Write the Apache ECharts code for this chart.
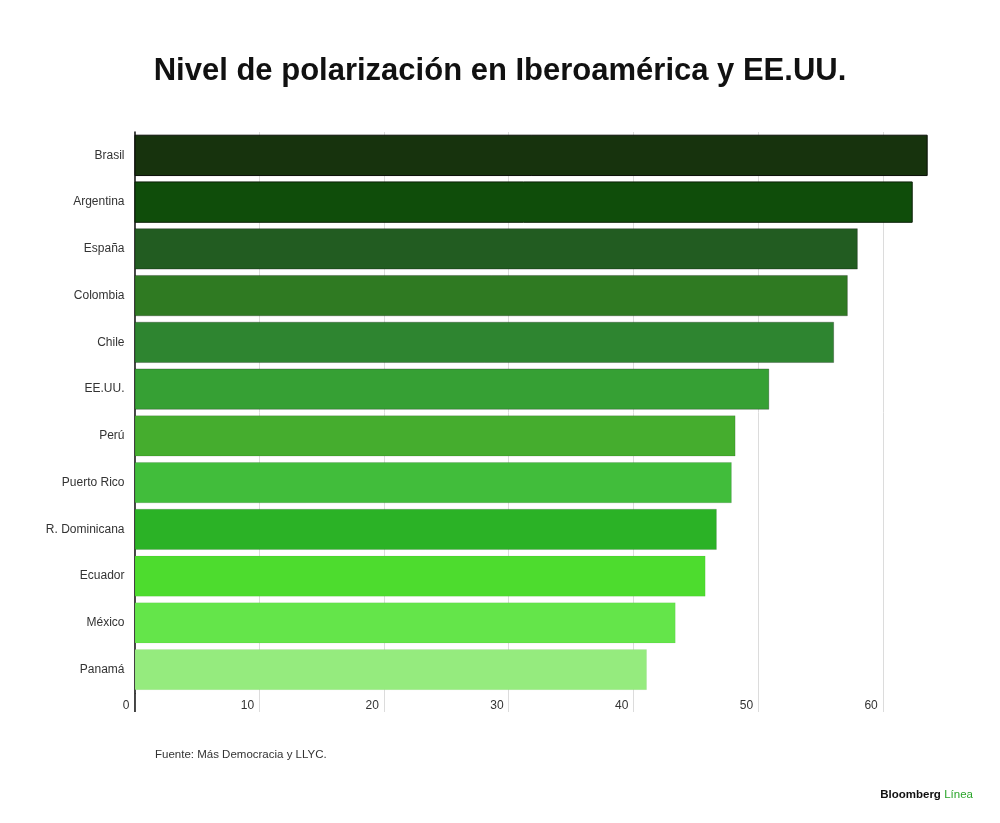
<!DOCTYPE html>
<html>
<head>
<meta charset="utf-8">
<script src="https://cdn.jsdelivr.net/npm/echarts@6/dist/echarts.min.js"></script>
<style>
html,body{margin:0;padding:0;background:#fff;}
#chart{width:1000px;height:823px;}
</style>
</head>
<body>
<div id="chart"></div>
<script>
const countries = ['Brasil','Argentina','España','Colombia','Chile','EE.UU.','Perú','Puerto Rico','R. Dominicana','Ecuador','México','Panamá'];
const polarization = [63.6, 62.4, 58.0, 57.2, 56.1, 50.9, 48.2, 47.9, 46.7, 45.8, 43.4, 41.1];
const xTicks = [0, 10, 20, 30, 40, 50, 60];
const barColors = ['#17330d','#0f4d0a','#225c21','#2f7a22','#2e8530','#36a034','#45ad2e','#41bd3b','#2bb226','#4ddc2e','#64e54a','#95eb7e'];
const barBorders = ['#0a0f08','#0b1f08','rgba(0,0,0,0.3)','rgba(0,0,0,0.25)','rgba(0,0,0,0.25)','rgba(0,0,0,0.25)','rgba(0,0,0,0.12)','rgba(0,0,0,0.12)','rgba(0,0,0,0.12)','rgba(0,0,0,0.05)','rgba(0,0,0,0.05)','rgba(0,0,0,0.03)'];

const chart = echarts.init(document.getElementById('chart'), null, {renderer:'canvas'});
const option = {
  backgroundColor: '#fff',
  animation: false,
  title: {
    text: 'Nivel de polarización en Iberoamérica y EE.UU.',
    left: 'center',
    top: 51,
    textStyle: {fontFamily: 'Liberation Sans, Arial, sans-serif', fontWeight: 'bold', fontSize: 31, color: '#111'}
  },
  graphic: [
    {type:'text', left: 155, top: 749, style:{text:'Fuente: Más Democracia y LLYC.', font:'11.5px "Liberation Sans", Arial, sans-serif', fill:'#333'}},
    {type:'text', right: 27, top: 789, style:{
      text:'{a|Bloomberg} {b|Línea}',
      rich:{
        a:{fontFamily:'Liberation Sans, Arial, sans-serif', fontWeight:'bold', fontSize:11.5, fill:'#111'},
        b:{fontFamily:'Liberation Sans, Arial, sans-serif', fontWeight:'normal', fontSize:11.5, fill:'#2aa52a'}
      }
    }}
  ],
  grid: {left: 134.5, top: 132, width: 873, height: 561, containLabel: false, outerBoundsMode: 'none'},
  xAxis: [
    {
      type: 'value', min: 0, max: 70, interval: 10,
      axisLine: {show: false},
      axisTick: {show: true, length: 19, lineStyle: {color: '#dcdcdc', width: 1}},
      splitLine: {show: true, lineStyle: {color: '#dcdcdc', width: 1}},
      axisLabel: {
        show: true, showMaxLabel: false, margin: 7, align: 'right', padding: [0, 5, 0, 0],
        color: '#333', fontSize: 12, fontFamily: 'Liberation Sans, Arial, sans-serif',
        formatter: function (v) { return xTicks.indexOf(v) >= 0 ? String(v) : ''; }
      }
    },
    {
      type: 'value', min: 0, max: 70, position: 'bottom', gridIndex: 0,
      axisLine: {show: false},
      splitLine: {show: false},
      axisLabel: {show: false},
      axisTick: {show: true, length: 19, customValues: [0], lineStyle: {color: '#111', width: 1.5}}
    }
  ],
  yAxis: {
    type: 'category', data: countries, inverse: true,
    axisLine: {show: true, lineStyle: {color: '#111', width: 1.5}},
    axisTick: {show: false},
    splitLine: {show: false},
    axisLabel: {margin: 10, color: '#333', fontSize: 12, fontFamily: 'Liberation Sans, Arial, sans-serif'}
  },
  series: [{
    type: 'bar',
    xAxisIndex: 0,
    barCategoryGap: '11.5%',
    data: polarization.map((v, i) => ({value: v, itemStyle: {color: barColors[i], borderColor: barBorders[i], borderWidth: 1}})),
    z: 3
  }]
};
chart.setOption(option);
</script>
</body>
</html>
